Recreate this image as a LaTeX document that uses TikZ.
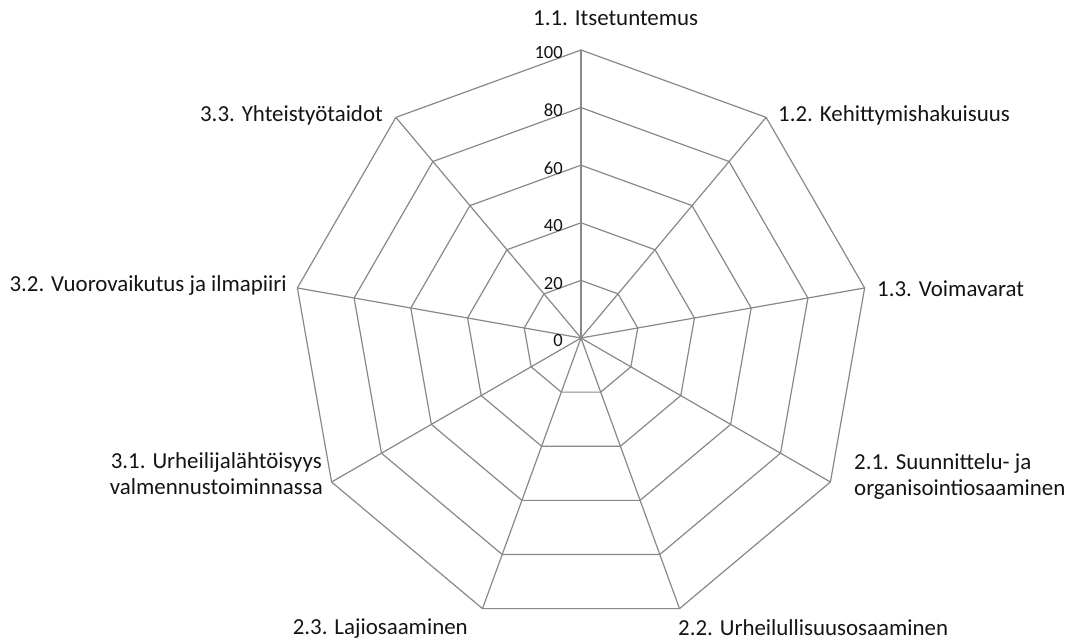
\documentclass[tikz,border=0pt]{standalone}
\usepackage{fontspec}
\setmainfont{Carlito}
\definecolor{gridgray}{RGB}{136,136,136}
\definecolor{txt}{RGB}{20,20,20}
\begin{document}
\begin{tikzpicture}[x=1pt,y=1pt,
  grid/.style={draw=gridgray, line width=1.2pt, line join=miter},
  lab/.style={font=\fontsize{22.9}{26}\selectfont, inner sep=0pt, text=txt},
  ticklab/.style={font=\fontsize{18.6}{20}\selectfont, inner sep=0pt, text=txt}]
\useasboundingbox (0,0) rectangle (1077,644);
\coordinate (C) at (581,306);
% rings
\foreach \r in {57.6,115.2,172.8,230.4,288}
  \draw[grid] ([shift={(90:\r)}]C)
    \foreach \a in {50,10,-30,-70,-110,-150,-190,-230} { -- ([shift={(\a:\r)}]C) } -- cycle;
% spokes
\foreach \i/\a in {1/90,2/50,3/10,4/-30,5/-70,6/-110,7/-150,8/-190,9/-230} {
  \coordinate (v\i) at ([shift={(\a:288)}]C);
  \draw[grid] (C) -- (v\i);
}
% tick labels
\foreach \v in {0,20,40,60,80,100}
  \node[ticklab, anchor=base east] (t\v) at (563, {306 + 2.88*\v - 9}) {\v};
% axis labels
\node[lab, anchor=base west] (l11) at (533,618) {1.1. Itsetuntemus};
\node[lab, anchor=base west] (l12) at (778,522) {1.2. Kehittymishakuisuus};
\node[lab, anchor=base west] (l13) at (877,347) {1.3. Voimavarat};
\node[lab, anchor=base west, align=left] (l21) at (854,148) {2.1. Suunnittelu- ja\\organisointiosaaminen};
\node[lab, anchor=base west] (l22) at (678,8) {2.2. Urheilullisuusosaaminen};
\node[lab, anchor=base east] (l23) at (468,9) {2.3. Lajiosaaminen};
\node[lab, anchor=base east, align=center] (l31) at (323,149) {3.1. Urheilijalähtöisyys\\valmennustoiminnassa};
\node[lab, anchor=base east] (l32) at (287,352) {3.2. Vuorovaikutus ja ilmapiiri};
\node[lab, anchor=base east] (l33) at (383,522) {3.3. Yhteistyötaidot};
\end{tikzpicture}
\end{document}
